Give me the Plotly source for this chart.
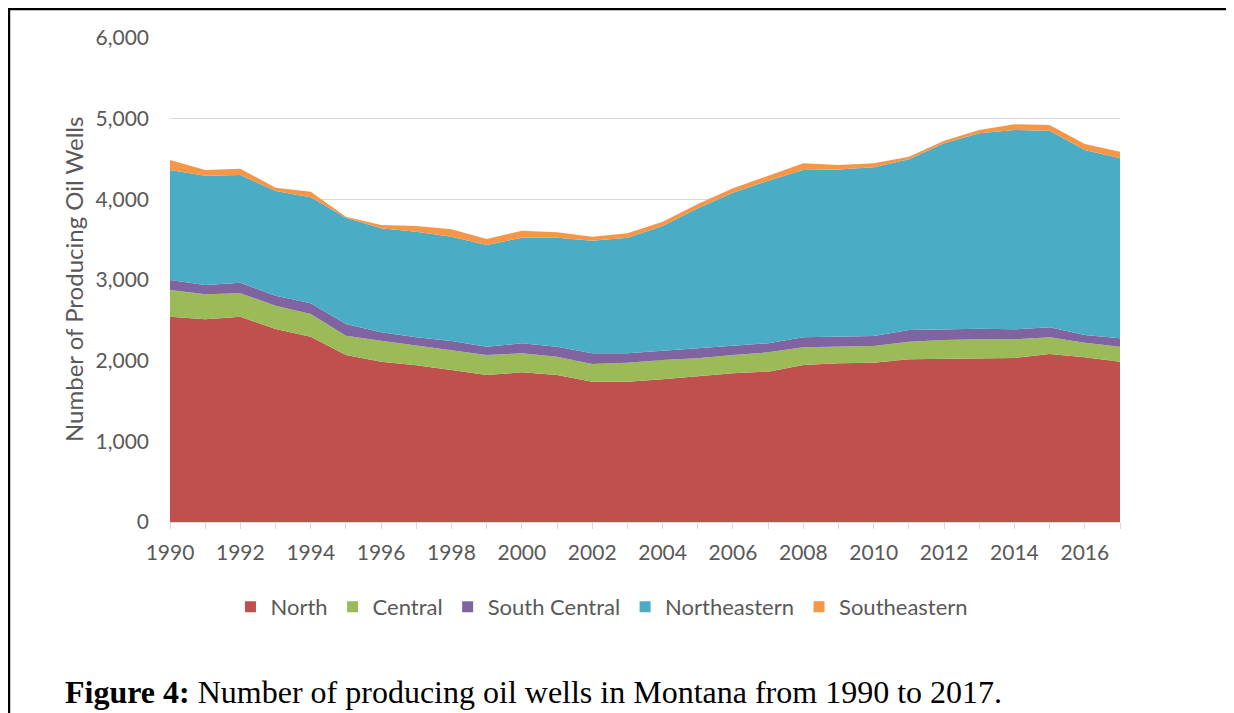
import plotly.graph_objects as go

years = list(range(1990, 2018))
north = [2545, 2513, 2545, 2393, 2297, 2070, 1988, 1942, 1884, 1822, 1855, 1822, 1740, 1740,
         1769, 1802, 1843, 1864, 1946, 1967, 1975, 2017, 2025, 2033, 2033, 2083, 2041, 1988]
central = [331, 309, 290, 289, 281, 240, 260, 244, 240, 248, 236, 227, 219, 235,
           239, 227, 227, 239, 219, 206, 207, 218, 231, 231, 231, 206, 182, 185]
south_central = [124, 116, 132, 124, 133, 144, 103, 103, 120, 103, 124, 124, 132, 116,
                 116, 124, 112, 112, 124, 124, 124, 145, 136, 132, 124, 124, 95, 104]
northeastern = [1363, 1355, 1334, 1297, 1314, 1318, 1289, 1310, 1293, 1261, 1309, 1351, 1396, 1433,
                1545, 1735, 1900, 2016, 2074, 2074, 2091, 2116, 2302, 2422, 2471, 2438, 2293, 2231]
southeastern = [124, 70, 79, 41, 70, 13, 42, 70, 91, 74, 87, 67, 50, 54,
                54, 54, 54, 58, 83, 54, 49, 33, 33, 41, 71, 70, 75, 83]

series = [
    ("North", north, "#C0504D"),
    ("Central", central, "#9BBB59"),
    ("South Central", south_central, "#8064A2"),
    ("Northeastern", northeastern, "#4BACC6"),
    ("Southeastern", southeastern, "#F79646"),
]

fig = go.Figure()
for name, vals, col in series:
    fig.add_trace(go.Scatter(
        x=years, y=vals, name=name, mode="lines", stackgroup="one",
        line=dict(width=0, color=col), fillcolor=col, showlegend=False,
    ))
# legend entries with square swatches
for name, vals, col in series:
    fig.add_trace(go.Scatter(
        x=[None], y=[None], name=name, mode="markers",
        marker=dict(symbol="square", size=11, color=col), showlegend=True,
    ))

tick_years = list(range(1990, 2018, 2))
fig.update_layout(
    width=1234, height=713,
    margin=dict(l=162, r=122, t=30, b=199),
    paper_bgcolor="white", plot_bgcolor="white",
    font=dict(family="Lato, Open Sans, sans-serif", color="#595959", size=21),
    showlegend=True,
    legend=dict(orientation="h", x=0.4547, xanchor="center", y=-0.1756, yanchor="middle",
                font=dict(size=22, color="#595959"), itemwidth=30, traceorder="normal",
                tracegroupgap=0),
    xaxis=dict(range=[1990, 2017], tickvals=tick_years, ticktext=[str(y) for y in tick_years],
               showgrid=False, zeroline=False, showline=True, linecolor="#D9D9D9", linewidth=1,
               ticks="outside", ticklen=6, tickcolor="#D9D9D9", ticklabelstandoff=6,
               minor=dict(tickvals=years, ticks="outside", ticklen=6, tickcolor="#D9D9D9"),
               tickfont=dict(size=21, color="#595959")),
    yaxis=dict(range=[0, 6000], tickvals=[0, 1000, 2000, 3000, 4000, 5000, 6000],
               tickformat=",d", showgrid=True, gridcolor="#D9D9D9", gridwidth=1,
               zeroline=False, showline=False, ticks="", ticklabelstandoff=20,
               tickfont=dict(size=21, color="#595959")),
)

fig.add_annotation(
    xref="paper", yref="paper", x=-0.1021, y=0.5, xanchor="center", yanchor="middle",
    text="Number of Producing Oil Wells", textangle=-90, showarrow=False,
    font=dict(family="Lato, Open Sans, sans-serif", size=24, color="#595959"),
)

fig.add_shape(type="rect", xref="paper", yref="paper",
              x0=-0.1695, x1=1.1168, y0=-0.45, y1=1.0599,
              line=dict(color="black", width=2.5), fillcolor="rgba(0,0,0,0)", layer="above")

fig.add_annotation(
    xref="paper", yref="paper", x=-0.1126, y=-0.3512, xanchor="left", yanchor="middle",
    text="<b>Figure 4:</b> Number of producing oil wells in Montana from 1990 to 2017.",
    showarrow=False,
    font=dict(family="Liberation Serif, Times New Roman, serif", size=32, color="black"),
)

fig.write_html("out.html")
